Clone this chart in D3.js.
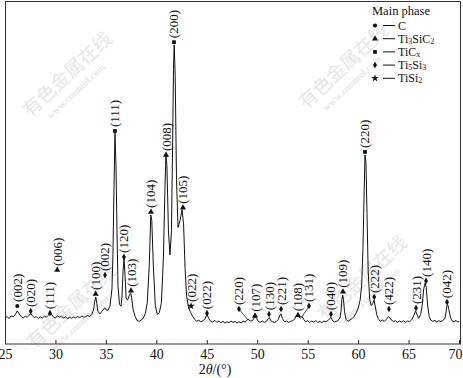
<!DOCTYPE html>
<html><head><meta charset="utf-8">
<script src="https://cdn.jsdelivr.net/npm/d3@7"></script>
<style>body{margin:0;background:#fff}svg{display:block}</style>
</head><body>
<svg id="c" width="463" height="378"></svg>
<script>
// ---- data ----
const xTicks = [25,30,35,40,45,50,55,60,65,70];
const pattern = [
[25.0,76],[25.2,80],[25.4,74],[25.6,82],[25.8,79],[26.0,85],[26.1,90],[26.2,96],[26.3,94],[26.4,88],[26.6,80],[26.8,76],
[27.0,81],[27.2,78],[27.4,84],[27.55,89],[27.7,83],[27.9,77],[28.1,80],[28.3,74],[28.5,79],[28.7,76],[28.9,81],[29.1,78],
[29.3,84],[29.45,90],[29.6,86],[29.8,79],[30.0,76],[30.2,82],[30.4,78],[30.6,81],[30.8,76],[31.0,79],[31.2,74],[31.4,78],
[31.6,75],[31.8,79],[32.0,76],[32.2,80],[32.4,77],[32.6,81],[32.8,78],[33.0,80],[33.2,83],[33.4,80],[33.6,86],[33.8,102],
[33.9,125],[34.0,137],[34.1,118],[34.2,96],[34.4,88],[34.6,95],[34.8,102],[34.9,106],[35.0,100],[35.2,98],[35.4,110],
[35.6,160],[35.7,260],[35.8,450],[35.9,615],[36.0,520],[36.1,330],[36.2,170],[36.35,115],[36.5,110],[36.6,140],[36.7,210],
[36.8,251],[36.9,200],[37.0,135],[37.15,128],[37.3,140],[37.45,149],[37.55,135],[37.7,100],[37.9,80],[38.1,68],[38.3,66],
[38.5,70],[38.7,75],[38.9,88],[39.1,120],[39.3,230],[39.45,376],[39.55,360],[39.7,230],[39.9,112],[40.1,86],[40.3,92],
[40.5,120],[40.7,250],[40.85,450],[40.95,551],[41.05,520],[41.2,330],[41.35,260],[41.5,330],[41.62,600],[41.7,800],
[41.77,872],[41.87,780],[42.0,480],[42.15,340],[42.35,360],[42.55,391],[42.7,350],[42.85,220],[43.0,140],[43.2,105],
[43.4,92],[43.6,80],[43.8,72],[44.0,66],[44.2,70],[44.4,64],[44.6,68],[44.8,72],[44.95,82],[45.05,84],[45.2,74],[45.4,66],
[45.6,64],[45.8,69],[46.0,63],[46.2,67],[46.4,62],[46.6,66],[46.8,61],[47.0,65],[47.2,62],[47.4,67],[47.6,63],[47.8,66],
[48.0,61],[48.2,65],[48.4,62],[48.6,66],[48.8,64],[48.95,68],[49.1,73],[49.3,67],[49.5,68],[49.7,76],[49.8,80],[49.95,74],
[50.1,66],[50.3,63],[50.5,67],[50.7,63],[50.9,66],[51.1,74],[51.2,77],[51.35,68],[51.5,65],[51.7,63],[51.9,66],[52.1,72],
[52.25,84],[52.35,88],[52.5,74],[52.7,65],[52.9,67],[53.1,63],[53.3,66],[53.5,68],[53.7,72],[53.85,82],[54.0,86],
[54.15,78],[54.3,76],[54.45,80],[54.6,72],[54.8,65],[55.0,68],[55.2,63],[55.4,67],[55.6,64],[55.8,68],[56.0,63],[56.2,66],
[56.4,62],[56.6,67],[56.8,65],[57.0,68],[57.2,74],[57.3,78],[57.45,70],[57.6,64],[57.8,66],[58.0,68],[58.2,76],[58.3,95],
[58.4,130],[58.47,143],[58.55,130],[58.65,95],[58.8,72],[59.0,66],[59.2,70],[59.4,74],[59.6,80],[59.8,90],[60.0,104],
[60.2,128],[60.35,170],[60.48,280],[60.58,420],[60.68,551],[60.78,530],[60.88,380],[61.0,210],[61.15,130],[61.3,112],
[61.45,118],[61.57,128],[61.7,110],[61.85,85],[62.0,74],[62.2,66],[62.4,70],[62.6,66],[62.8,72],[63.0,80],[63.15,76],
[63.3,70],[63.5,65],[63.7,68],[63.9,63],[64.1,67],[64.3,64],[64.5,68],[64.7,63],[64.9,67],[65.1,65],[65.3,70],[65.5,82],
[65.7,96],[65.85,85],[66.0,75],[66.2,86],[66.35,112],[66.5,160],[66.65,178],[66.75,165],[66.9,110],[67.05,80],[67.2,70],
[67.4,66],[67.6,69],[67.8,64],[68.0,68],[68.2,65],[68.4,69],[68.6,74],[68.7,88],[68.8,112],[68.9,114],[69.0,100],
[69.15,78],[69.3,68],[69.5,65],[69.7,69],[69.85,64],[70.0,66]
];

// peak annotations
const peakLabels = ["(002)","(020)","(111)","(006)","(100)","(002)","(111)","(120)","(103)","(104)","(008)","(200)","(105)",
  "(022)","(022)","(220)","(107)","(130)","(221)","(108)","(131)","(040)","(109)","(220)","(222)","(422)","(231)","(140)","(042)"];
const peakPhase = ["C","Ti5Si3","Ti5Si3","Ti3SiC2","Ti3SiC2","Ti5Si3","TiCx","Ti5Si3","Ti3SiC2","Ti3SiC2","Ti3SiC2","TiCx","Ti3SiC2",
  "TiSi2","Ti5Si3","Ti5Si3","Ti3SiC2","Ti5Si3","Ti5Si3","Ti3SiC2","Ti5Si3","Ti5Si3","Ti3SiC2","TiCx","Ti5Si3","Ti5Si3","Ti5Si3","Ti5Si3","Ti5Si3"];
const peakPos = [26.22,27.55,29.46,30.18,33.99,34.91,35.90,36.79,37.49,39.47,40.96,41.75,42.64,
  43.44,45.02,48.19,49.78,51.17,52.36,54.04,55.13,57.31,58.50,60.68,61.60,63.06,65.74,66.73,68.81];
const peakMark = [111,96,90,216,146,201,621,254,155,385,551,880,397,
  111,90,102,82,87,102,84,111,87,152,560,137,102,105,184,122];
const leaderFrom = {15:[49.08,70], 20:[54.44,79]};

// legend
const legendTitle = "Main phase";
const legendPhases = ["C","Ti3SiC2","TiCx","Ti5Si3","TiSi2"];
const legendParts = [[["C",""]],[["Ti",""],["3","s"],["SiC",""],["2","s"]],[["TiC",""],["x","s"]],
  [["Ti",""],["5","s"],["Si",""],["3","s"]],[["TiSi",""],["2","s"]]];

// ---- drawing ----
const svg = d3.select("#c");
const x = d3.scaleLinear().domain([25,70]).range([5,459]);
const y = d3.scaleLinear().domain([0,1000]).range([344,1]);
const serif = "'Liberation Serif','Times New Roman',serif";

const symType = {C:d3.symbolCircle, Ti3SiC2:d3.symbolTriangle, TiCx:d3.symbolSquare, Ti5Si3:d3.symbolDiamond, TiSi2:d3.symbolStar};
const symSize = {C:13, Ti3SiC2:16, TiCx:14, Ti5Si3:13, TiSi2:18};

// faint background watermark (as in the source image)
const wmGroups = [[30,118],[34,350],[306,110],[325,322]];
const wm = svg.append("g").attr("fill","#e6e6e6").attr("font-family","'Noto Sans CJK SC',sans-serif");
wmGroups.forEach(([gx,gy])=>{
  const g = wm.append("g").attr("transform",`translate(${gx},${gy}) rotate(-43)`);
  g.append("text").attr("font-size",19).text("有色金属在线");
  g.append("text").attr("x",14).attr("y",15).attr("font-size",10).attr("font-weight","bold")
   .attr("font-family",serif).text("www.cnnmol.com");
});

// axis
const ax = svg.append("g").attr("transform","translate(0,344)")
  .call(d3.axisBottom(x).tickValues(xTicks).tickSizeInner(-4).tickSizeOuter(0).tickPadding(5));
ax.select(".domain").remove();
ax.selectAll("line").attr("stroke","#222");
ax.selectAll("text").attr("font-family",serif).attr("font-size",14).attr("fill","#111");
ax.selectAll(".tick").filter(d=>d===70).select("text").attr("dx",-4);

// frame
svg.append("rect").attr("x",5.5).attr("y",1.5).attr("width",455).attr("height",342.5)
  .attr("fill","none").attr("stroke","#333").attr("stroke-width",1);

// curve
const line = d3.line().x(d=>x(d[0])).y(d=>y(d[1]));
svg.append("path").datum(pattern).attr("d",line).attr("fill","none").attr("stroke","#111")
  .attr("stroke-width",1).attr("stroke-linejoin","round");

// annotations
const ann = svg.append("g");
peakLabels.forEach((lab,i)=>{
  const px = x(peakPos[i]), py = y(peakMark[i]);
  const ph = peakPhase[i];
  if (leaderFrom[i]) {
    const [lx,ly] = leaderFrom[i];
    ann.append("line").attr("x1",x(lx)).attr("y1",y(ly)).attr("x2",px).attr("y2",py)
      .attr("stroke","#222").attr("stroke-width",0.8);
  }
  ann.append("path").attr("transform",`translate(${px},${py})`)
    .attr("d",d3.symbol().type(symType[ph]).size(symSize[ph])()).attr("fill","#111");
  ann.append("text").attr("transform",`translate(${px+4.5},${py-4}) rotate(-90)`)
    .attr("font-family",serif).attr("font-size",13).attr("fill","#111").text(lab);
});

// legend
const lg = svg.append("g").attr("font-family",serif).attr("font-size",12).attr("fill","#111");
lg.append("text").attr("x",372).attr("y",15).attr("font-size",12.5).text(legendTitle);
legendPhases.forEach((ph,i)=>{
  const cy = 25.5 + i*13.2;
  lg.append("path").attr("transform",`translate(375,${cy})`)
    .attr("d",d3.symbol().type(symType[ph]).size(symSize[ph])());
  lg.append("line").attr("x1",383).attr("x2",395).attr("y1",cy).attr("y2",cy).attr("stroke","#111").attr("stroke-width",1);
  const t = lg.append("text").attr("x",398).attr("y",cy+4);
  legendParts[i].forEach(([s,k])=>{
    const ts = t.append("tspan").text(s);
    if (k==="s") ts.attr("font-size",8).attr("dy",1.1); else ts.attr("dy", t.selectAll("tspan").size()>1 ? -1.1 : 0);
  });
});

// x-axis title
const tt = svg.append("text").attr("x",215).attr("y",374).attr("text-anchor","middle")
  .attr("font-family",serif).attr("font-size",14).attr("fill","#111");
tt.append("tspan").text("2");
tt.append("tspan").attr("font-style","italic").text("θ");
tt.append("tspan").text("/(°)");
</script>
</body></html>
